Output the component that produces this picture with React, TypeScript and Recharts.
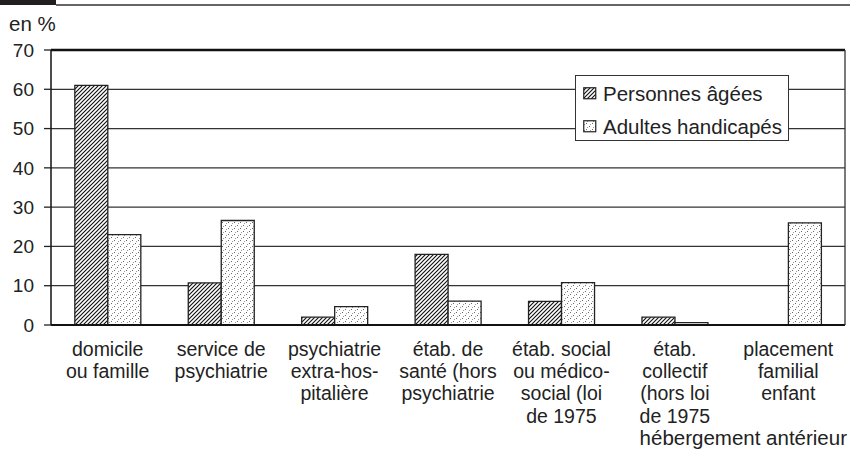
import React from "react";
import { BarChart, Bar, XAxis, YAxis, CartesianGrid, Legend, ReferenceLine } from "recharts";

const categories = [
  "domicile\nou famille",
  "service de\npsychiatrie",
  "psychiatrie\nextra-hos-\npitalière",
  "étab. de\nsanté (hors\npsychiatrie",
  "étab. social\nou médico-\nsocial (loi\nde 1975",
  "étab.\ncollectif\n(hors loi\nde 1975",
  "placement\nfamilial\nenfant",
];
const personnesAgees = [61, 10.7, 2, 18, 6, 2, null];
const adultesHandicapes = [23, 26.6, 4.7, 6.1, 10.8, 0.6, 26];
const yTicks = [0, 10, 20, 30, 40, 50, 60, 70];
const boundaryTicks = [0, 1, 2, 3, 4, 5, 6, 7];

const data = categories.map((c, i) => ({
  name: c,
  pa: personnesAgees[i],
  ah: adultesHandicapes[i],
}));

const FONT = '"Liberation Sans", Arial, sans-serif';
const INK = "#222";

const CategoryTick = (props: any) => {
  const { x, y, payload } = props;
  const lines = String(payload.value).split("\n");
  return (
    <text x={x} y={y + 31} textAnchor="middle" fontFamily={FONT} fontSize={19.5} fill={INK}>
      {lines.map((l, i) => (
        <tspan key={i} x={x} dy={i === 0 ? 0 : 22.2}>
          {l}
        </tspan>
      ))}
    </text>
  );
};

const LegendBox = () => (
  <div
    style={{
      width: 212,
      height: 64,
      border: "1.5px solid #333",
      background: "#fff",
      fontFamily: FONT,
      fontSize: 20.5,
      color: INK,
      position: "relative",
    }}
  >
    {[
      { fill: "url(#hatch)", label: "Personnes âgées", top: 11 },
      { fill: "url(#dots)", label: "Adultes handicapés", top: 44 },
    ].map((it) => (
      <div key={it.label} style={{ position: "absolute", left: 7, top: it.top, display: "flex", alignItems: "center", whiteSpace: "nowrap" }}>
        <svg width={14} height={13} style={{ marginRight: 6 }}>
          <rect x={0.75} y={0.75} width={12} height={11} fill={it.fill} stroke={INK} strokeWidth={1.2} />
        </svg>
        <span style={{ lineHeight: "13px" }}>{it.label}</span>
      </div>
    ))}
  </div>
);

export default function App() {
  return (
    <div style={{ position: "absolute", left: 0, top: 0, width: 850, height: 455, background: "#fff" }}>
      <div style={{ position: "absolute", left: 0, top: 0, width: 56, height: 5, background: "#231f20" }} />
      <div style={{ position: "absolute", left: 56, top: 4, width: 794, height: 2, background: "#666" }} />
      <BarChart
        width={850}
        height={455}
        data={data}
        margin={{ top: 50, right: 0, bottom: 0, left: 0 }}
        barCategoryGap="21%"
        barGap={0}
      >
        <defs>
          <pattern id="hatch" patternUnits="userSpaceOnUse" width={4} height={4}>
            <rect width={4} height={4} fill="#fff" />
            <path d="M-1,1 l2,-2 M0,4 l4,-4 M3,5 l2,-2" stroke="#111" strokeWidth={1.15} />
          </pattern>
          <pattern id="dots" patternUnits="userSpaceOnUse" width={6} height={6}>
            <rect width={6} height={6} fill="#fff" />
            <rect x={0} y={0} width={1} height={1} fill="#666" />
            <rect x={3} y={3} width={1} height={1} fill="#666" />
            <rect x={1} y={4} width={1} height={1} fill="#999" />
            <rect x={4} y={1} width={1} height={1} fill="#999" />
          </pattern>
        </defs>
        <CartesianGrid vertical={false} stroke="#333" strokeWidth={1.3} />
        <XAxis
          xAxisId="b"
          type="number"
          domain={[0, 7]}
          ticks={boundaryTicks}
          allowDataOverflow
          height={0}
          tick={false}
          tickSize={5}
          axisLine={false}
          tickLine={{ stroke: INK, strokeWidth: 1.3 }}
        />
        <XAxis
          dataKey="name"
          height={130}
          interval={0}
          tickSize={0}
          tickMargin={0}
          tickLine={false}
          axisLine={{ stroke: "#111", strokeWidth: 2 }}
          tick={<CategoryTick />}
          label={{
            content: () => (
              <text x={847} y={445} textAnchor="end" fontFamily={FONT} fontSize={20.5} fill={INK}>
                hébergement antérieur
              </text>
            ),
          }}
        />
        <YAxis
          width={51}
          domain={[0, 70]}
          ticks={yTicks}
          interval={0}
          tickSize={7}
          tickMargin={10}
          axisLine={{ stroke: "#111", strokeWidth: 1.5 }}
          tickLine={{ stroke: INK, strokeWidth: 1.3 }}
          tick={{ fontFamily: FONT, fontSize: 19, fill: INK }}
          label={{
            content: () => (
              <text x={9} y={31} fontFamily={FONT} fontSize={20.5} fill={INK}>
                en %
              </text>
            ),
          }}
        />
        <YAxis
          yAxisId="r"
          orientation="right"
          width={5}
          domain={[0, 70]}
          tick={false}
          tickLine={false}
          axisLine={{ stroke: "#333", strokeWidth: 1.3 }}
        />
        <ReferenceLine y={70} stroke="#111" strokeWidth={2.5} />
        <Legend
          layout="horizontal"
          verticalAlign="middle"
          align="center"
          wrapperStyle={{ top: 75, left: 575, width: 215, height: 67 }}
          content={() => <LegendBox />}
        />
        <Bar dataKey="pa" name="Personnes âgées" fill="url(#hatch)" stroke={INK} strokeWidth={1.3} isAnimationActive={false} />
        <Bar dataKey="ah" name="Adultes handicapés" fill="url(#dots)" stroke={INK} strokeWidth={1.3} isAnimationActive={false} />
      </BarChart>
    </div>
  );
}
